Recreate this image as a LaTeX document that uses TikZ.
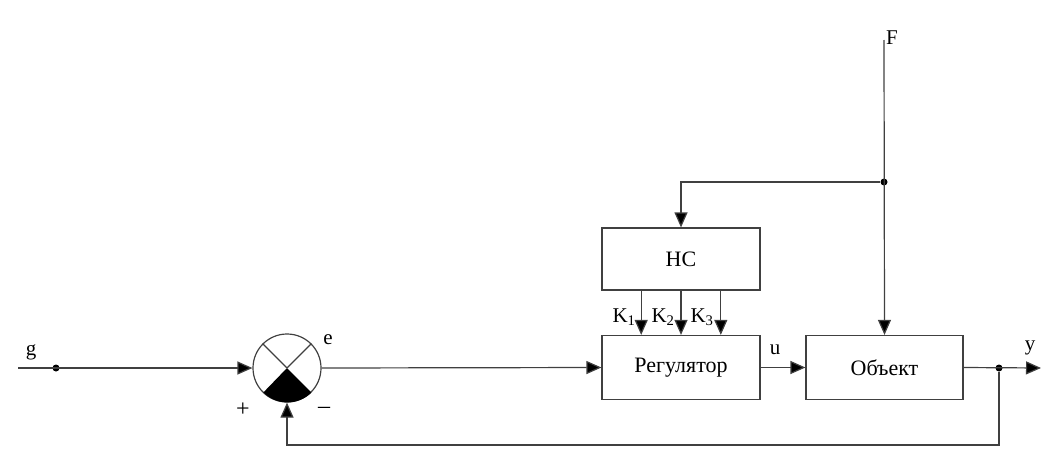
\documentclass[tikz,border=0pt]{standalone}
\usepackage{fontspec}
\setmainfont{Liberation Serif}
\usetikzlibrary{arrows.meta,calc}
\begin{document}
\begin{tikzpicture}[x=1pt,y=-1pt,
  line/.style={draw=black!75,line width=1.2pt},
  arr/.style={line,-{Triangle[length=15pt,width=13pt,fill=black]}},
  block/.style={draw=black!75,line width=1.2pt,rectangle,inner sep=0pt,font=\fontsize{22}{22}\selectfont},
  dot/.style={circle,fill=black,inner sep=0pt,minimum size=7pt},
  lbl/.style={inner sep=0pt,font=\fontsize{21}{21}\selectfont}]
\useasboundingbox (0,0) rectangle (1041,471);
% nodes
\coordinate (gstart) at (18,368);
\node[dot] (gdot) at (56,368) {};
\node[circle,draw=black!75,line width=1.2pt,minimum size=68pt,inner sep=0pt] (s) at (287,368) {};
\node[block,minimum width=158pt,minimum height=64pt] (reg) at (681,367.5) {Регулятор};
\node[block,minimum width=158pt,minimum height=62pt] (hc) at (681,259) {НС};
\node[block,minimum width=157pt,minimum height=64pt] (obj) at (884.5,367.5) {Объект};
\coordinate (ftop) at (884,40);
\node[dot] (fdot) at (884,182) {};
\node[dot] (ydot) at (999,368) {};
\coordinate (yend) at (1041,368);
\coordinate (fb) at (999,445);
% summing junction details
\fill[black] (s.center) -- (s.-45) arc[start angle=-45,end angle=-135,radius=34pt] -- cycle;
\draw[line] (s.center) -- (s.45);
\draw[line] (s.center) -- (s.135);
% connectors
\draw[arr] (gstart) -- (s.west);
\draw[arr] (s.east) -- (reg.west);
\draw[arr] (reg.east) -- (obj.west);
\draw[arr] (obj.east) -- (yend);
\draw[arr] (ydot) -- (fb) -| (s.south);
\draw[arr] (ftop) -- (obj.north);
\draw[arr] (fdot) -| (hc.north);
\draw[arr] ($(hc.south west)!.25!(hc.south east)$) -- ($(reg.north west)!.25!(reg.north east)$);
\draw[arr] (hc.south) -- (reg.north);
\draw[arr] ($(hc.south west)!.75!(hc.south east)$) -- ($(reg.north west)!.75!(reg.north east)$);
% labels
\node[lbl] (lg) at (31,352) {g};
\node[lbl] (le) at (328,340) {e};
\node[lbl,font=\fontsize{24}{24}\selectfont] (lp) at (243,410) {+};
\node[lbl,font=\fontsize{24}{24}\selectfont] (lm) at (324,410) {–};
\node[lbl] (lu) at (775,350) {u};
\node[lbl] (ly) at (1030,348) {y};
\node[lbl] (lF) at (892,38) {F};
\node[lbl] (k1) at (624,317) {K\textsubscript{1}};
\node[lbl] (k2) at (663,317) {K\textsubscript{2}};
\node[lbl] (k3) at (702,317) {K\textsubscript{3}};
\end{tikzpicture}
\end{document}
